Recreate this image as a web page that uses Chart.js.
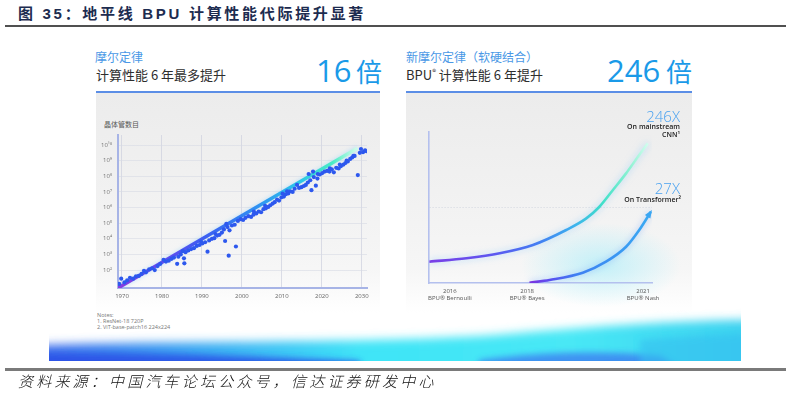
<!DOCTYPE html>
<html><head><meta charset="utf-8">
<script src="https://cdn.jsdelivr.net/npm/chart.js@4.4.1/dist/chart.umd.min.js"></script>
<style>
html,body{margin:0;padding:0;background:#fff;width:791px;height:398px;overflow:hidden;}
body{position:relative;font-family:"Noto Sans CJK SC","Open Sans",sans-serif;}
.abs{position:absolute;white-space:nowrap;}
#title{left:18px;top:4px;font-size:15px;font-weight:700;color:#1d2c50;letter-spacing:2.7px;line-height:19px;font-family:"Liberation Sans","Noto Sans CJK SC",sans-serif;}
#rule1{left:5px;top:25px;width:781px;height:2px;background:#505050;}
#rule2{left:5px;top:368px;width:781px;height:3px;background:#7a7a7a;}
#source{left:18px;top:372px;font-size:15px;line-height:18px;font-style:italic;letter-spacing:3.2px;color:#111;font-weight:300;}
.sub1{font-size:12px;line-height:14px;color:#4a98e6;}
.sub2{font-size:13px;line-height:16px;color:#2e2e2e;font-weight:400;}
.big{font-family:"Open Sans",sans-serif;font-weight:400;font-size:31px;line-height:31px;color:#1a9ae8;}
.bigc{font-family:"Noto Sans CJK SC",sans-serif;font-weight:400;font-size:26px;line-height:26px;color:#1a9ae8;}
.uline{height:2px;background:#5b8ee6;top:91px;}
.panel{top:93px;height:220px;background:linear-gradient(180deg,#ececec 0%,#f1f1f1 45%,#f6f6f6 80%,#ffffff 100%);}
.note{font-family:"Open Sans",sans-serif;font-size:5.5px;line-height:6px;color:#777;}
.ann{font-family:"Open Sans",sans-serif;text-align:right;}
canvas{position:absolute;}
</style></head>
<body>
<div id="title" class="abs">图 35：地平线 BPU 计算性能代际提升显著</div>
<div id="rule1" class="abs"></div>

<div class="abs sub1" style="left:95px;top:50px;">摩尔定律</div>
<div class="abs sub2" style="left:96px;top:67px;">计算性能 6 年最多提升</div>
<div class="abs big" style="left:316px;top:55px;">16</div>
<div class="abs bigc" style="left:356px;top:58px;">倍</div>

<div class="abs sub1" style="left:406px;top:50px;">新摩尔定律（软硬结合）</div>
<div class="abs sub2" style="left:406px;top:67px;">BPU<sup style="font-size:8px;line-height:0;">®</sup> 计算性能 6 年提升</div>
<div class="abs big" style="left:607px;top:55px;">246</div>
<div class="abs bigc" style="left:666px;top:58px;">倍</div>

<div class="abs uline" style="left:96px;width:284px;"></div>
<div class="abs uline" style="left:406px;width:286px;"></div>

<div class="abs panel" style="left:96px;width:284px;"></div>
<div class="abs panel" style="left:406px;width:286px;background:radial-gradient(ellipse 80px 42px at 195px 172px,rgba(160,236,250,0.6),rgba(160,236,250,0) 100%),linear-gradient(180deg,#ececec 0%,#f1f1f1 45%,#f6f6f6 80%,#ffffff 100%);"></div>

<div class="abs" style="left:104px;top:120px;font-size:7px;line-height:9px;color:#555;">晶体管数目</div>

<canvas id="moore" width="284" height="210" style="left:96px;top:94px;width:284px;height:210px;"></canvas>
<canvas id="bpu" width="286" height="216" style="left:406px;top:94px;width:286px;height:216px;"></canvas>

<div class="abs ann" style="right:111px;top:108px;font-size:15px;line-height:17px;color:#4aa2f0;font-weight:300;">246X</div>
<div class="abs ann" style="right:111px;top:123px;font-size:7px;line-height:8px;color:#222;font-weight:600;">On mainstream<br>CNN¹</div>
<div class="abs ann" style="right:111px;top:180px;font-size:15px;line-height:17px;color:#4aa2f0;font-weight:300;">27X</div>
<div class="abs ann" style="right:110px;top:196px;font-size:7px;line-height:8px;color:#222;font-weight:600;">On Transformer²</div>

<div class="abs note" style="left:97px;top:312px;">Notes:<br>1. ResNet-18 720P<br>2. ViT-base-patch16 224x224</div>

<svg class="abs" style="left:0;top:300px;" width="791" height="70">
  <defs>
    <linearGradient id="bandH" x1="49" x2="741" y1="0" y2="0" gradientUnits="userSpaceOnUse">
      <stop offset="0" stop-color="#3a6cec"/>
      <stop offset="0.2" stop-color="#3aa4f2"/>
      <stop offset="0.45" stop-color="#3fe4f7"/>
      <stop offset="0.75" stop-color="#48e8f5"/>
      <stop offset="1" stop-color="#3cd2f0"/>
    </linearGradient>
    <filter id="blur1" x="-10%" y="-60%" width="120%" height="220%"><feGaussianBlur stdDeviation="5"/></filter>
    <filter id="blur2" x="-10%" y="-60%" width="120%" height="220%"><feGaussianBlur stdDeviation="3"/></filter>
    <clipPath id="bandClip"><rect x="49" y="0" width="692" height="61"/></clipPath>
  </defs>
  <g clip-path="url(#bandClip)">
    <path d="M20,80 L20,46 C160,40 330,44 480,36 C570,29 640,21 780,19 L780,80 Z" fill="url(#bandH)" filter="url(#blur1)"/>
    <path d="M20,80 L20,55 C140,51 260,57 360,61 L360,80 Z" fill="#2a4fe6" opacity="0.85" filter="url(#blur2)"/>
    <path d="M470,80 L480,60 C540,52 600,50 660,56 L700,80 Z" fill="#3a6ef0" opacity="0.7" filter="url(#blur2)"/>
    <path d="M640,80 L640,40 C690,36 730,34 780,34 L780,80 Z" fill="#36bff0" opacity="0.6" filter="url(#blur2)"/>
  </g>
</svg>

<div id="rule2" class="abs"></div>
<div id="source" class="abs">资料来源：中国汽车论坛公众号，信达证券研发中心</div>

<script>
// ---------- Left: Moore's law (transistor count, log scale) ----------
const mooreYears = [
  1969.3,1969.8,1970.6,1971.3,1972.0,1972.8,1973.5,1974.2,1974.9,1975.5,
  1976.0,1976.8,1977.5,1978.2,1978.9,1979.6,1980.4,1981.0,1981.7,1982.4,
  1983.0,1983.8,1984.1,1984.7,1985.2,1985.5,1985.6,1985.9,1986.6,1987.3,
  1988.0,1988.7,1989.4,1989.8,1990.1,1990.8,1991.4,1991.8,1992.5,1993.1,
  1993.4,1993.8,1994.4,1995.0,1995.5,1995.8,1996.1,1996.4,1996.7,1996.9,
  1997.5,1998.2,1998.5,1999.0,1999.7,2000.3,2000.9,2001.6,2002.3,2002.9,
  2003.0,2003.6,2004.2,2004.8,2005.4,2005.8,2006.0,2006.6,2007.1,2007.7,
  2008.2,2008.8,2009.3,2009.9,2010.2,2010.5,2011.0,2011.3,2011.6,2012.1,
  2012.7,2013.2,2013.8,2014.3,2014.9,2015.5,2016.0,2016.5,2016.7,2017.1,
  2017.4,2017.8,2018.0,2018.5,2018.9,2019.0,2019.5,2020.1,2020.7,2021.3,
  2021.9,2022.0,2022.5,2023.0,2023.6,2024.2,2024.5,2024.8,2025.4,2025.9,
  2026.2,2026.5,2027.1,2027.6,2027.9,2028.2,2029.0,2029.5,2029.8,2030.3,
  2030.8,2031.2
];
const mooreTransistors = [
  13,28,16,22,32,28,40,42,56,89,
  71,110,130,100,180,250,450,350,400,520,
  630,250,710,1000,1600,560,270,1400,1800,2200,
  2500,3500,4000,6300,5000,6000,1500,7900,1.0e4,1.1e4,
  2.0e4,1.6e4,1.8e4,2.5e4,4.0e4,7200,8.9e4,5.6e4,830,3.5e4,
  7.1e4,7.9e4,3200,1.4e5,1.8e5,1.6e5,2.2e5,2.8e5,2.5e5,3.5e5,
  5.6e5,4.2e5,5.6e5,5.0e5,7.9e5,1.3e6,8.9e5,1.1e6,1.4e6,1.8e6,
  2.2e6,3.2e6,2.8e6,4.5e6,7.9e6,5.0e6,7.1e6,1.1e7,7.9e6,1.1e7,
  1.0e7,1.6e7,2.8e7,1.8e7,2.0e7,2.4e7,2.8e7,4.0e7,1.4e8,5.6e7,
  1.3e7,2.0e8,8.9e7,2.5e7,7.1e7,1.4e8,1.3e8,1.6e8,2.0e8,2.2e8,
  2.0e8,3.2e8,2.8e8,1.8e8,3.5e8,3.2e8,5.6e8,4.5e8,5.6e8,7.1e8,
  1.0e9,8.9e8,1.3e9,1.6e9,2.0e9,2.0e9,1.2e8,3.2e9,5.6e9,3.5e9,
  4.5e9,4.0e9
];
const trendYears = [1969.0, 2028.9];
const trendTransistors = [7.1, 6.3e9];
const mooreXTicks = [1970,1980,1990,2000,2010,2020,2030];
const mooreYTickValues = [1e2,1e3,1e4,1e5,1e6,1e7,1e8,1e9,1e10];
const mooreYTickLabels = ['10²','10³','10⁴','10⁵','10⁶','10⁷','10⁸','10⁹','10¹⁰'];

// ---------- Right: BPU generations (relative compute) ----------
const bpuCnnYears = [2015.47,2016.43,2017.29,2018.15,2019.01,2019.53,2019.87,2020.22,2020.56,2020.90,2021.12];
const bpuCnnPerf  = [14.1,16.4,19.7,25.2,35.1,42.8,50.5,61.6,72.6,84.8,92.5];
const bpuTransYears = [2018.06,2018.58,2019.44,2020.04,2020.56,2020.90,2021.20];
const bpuTransPerf  = [0.2,2.0,6.8,14.1,24.0,35.1,47.2];
const bpuXTicks = [2016,2018,2021];
const bpuXLabels = [['2016','BPU® Bernoulli'],['2018','BPU® Bayes'],['2021','BPU® Nash']];
const bpuGuideValues = [50];

Chart.defaults.font.family = '"Open Sans", "Noto Sans", sans-serif';

function hGrad(chart, stops, x0, x1){
  const area = chart.chartArea;
  if(!area) return stops[0][1];
  const a = x0 === undefined ? area.left : x0;
  const b = x1 === undefined ? area.right : x1;
  const g = chart.ctx.createLinearGradient(a,0,b,0);
  stops.forEach(s => g.addColorStop(s[0], s[1]));
  return g;
}

const glowPlugin = {
  id:'glow',
  beforeDatasetDraw(chart, args){
    const ds = chart.data.datasets[args.index];
    if(!ds.glowColor) return;
    chart.ctx.save();
    chart.ctx.shadowColor = ds.glowColor;
    chart.ctx.shadowBlur = ds.glowBlur || 6;
  },
  afterDatasetDraw(chart, args){
    const ds = chart.data.datasets[args.index];
    if(!ds.glowColor) return;
    chart.ctx.restore();
  }
};

// Left chart
new Chart(document.getElementById('moore'), {
  type:'scatter',
  data:{
    datasets:[
      {
        type:'line',
        data: trendYears.map((x,i)=>({x, y: trendTransistors[i]})),
        borderWidth:3.5,
        pointRadius:0,
        order:2,
        glowColor:'rgba(120,200,255,0.5)', glowBlur:4,
        borderColor: c => hGrad(c.chart, [[0,'#8a3be0'],[0.15,'#6a48ee'],[0.35,'#3b5ff2'],[0.55,'#2f8ff2'],[0.72,'#2cc4ea'],[0.86,'#48ecc4'],[0.95,'#c6fbe6'],[1,'#e8fff6']])
      },
      {
        data: mooreYears.map((x,i)=>({x, y: mooreTransistors[i]})),
        backgroundColor:'#2d58ee',
        borderWidth:0,
        pointRadius:2.1,
        order:1
      }
    ]
  },
  options:{
    responsive:false, animation:false,
    layout:{padding:{top:41,right:13,left:0,bottom:0}},
    plugins:{legend:{display:false},tooltip:{enabled:false}},
    scales:{
      x:{
        type:'linear', min:1969, max:2031.3,
        afterBuildTicks: s => { s.ticks = mooreXTicks.map(v=>({value:v})); },
        afterFit: s => { s.height = 16; },
        ticks:{font:{size:6},color:'#666',padding:5,maxRotation:0,autoSkip:false,callback:v=>String(v)},
        grid:{color:'rgba(205,208,222,0.7)',lineWidth:1,drawTicks:false},
        border:{color:'#a7b4e6',width:2}
      },
      y:{
        type:'logarithmic', min:7.08, max:4.4e10,
        afterBuildTicks: s => { s.ticks = mooreYTickValues.map(v=>({value:v})); },
        afterFit: s => { s.width = 22; },
        ticks:{font:{size:6},color:'#777',padding:6,autoSkip:false,
          callback:(v)=>{ const i = mooreYTickValues.indexOf(v); return i>=0 ? mooreYTickLabels[i] : ''; }},
        grid:{color:'rgba(215,218,228,0.6)',lineWidth:1,drawTicks:false},
        border:{color:'#a7b4e6',width:2}
      }
    }
  },
  plugins:[glowPlugin]
});

// Right chart
const arrowPlugin = {
  id:'arrowHead',
  afterDatasetsDraw(chart){
    const meta = chart.getDatasetMeta(1);
    const pts = meta.data;
    const p1 = pts[pts.length-1];
    const p0 = pts[pts.length-2];
    const bx = (p1.cp1x !== undefined) ? p1.cp1x : p0.x;
    const by = (p1.cp1y !== undefined) ? p1.cp1y : p0.y;
    const ang = Math.atan2(p1.y-by, p1.x-bx);
    const ctx = chart.ctx, L = 6, W = 3.2;
    ctx.save();
    ctx.translate(p1.x, p1.y);
    ctx.rotate(ang);
    ctx.beginPath();
    ctx.moveTo(2,0);
    ctx.lineTo(-L,-W);
    ctx.lineTo(-L,W);
    ctx.closePath();
    ctx.fillStyle='#3aa6f2';
    ctx.fill();
    ctx.restore();
  }
};

new Chart(document.getElementById('bpu'), {
  type:'line',
  data:{
    datasets:[
      {
        data: bpuCnnYears.map((x,i)=>({x, y: bpuCnnPerf[i]})),
        borderWidth:2.6, pointRadius:0, cubicInterpolationMode:'monotone',
        glowColor:'rgba(110,190,255,0.55)', glowBlur:7,
        borderColor: c => hGrad(c.chart, [[0,'#7b3fe6'],[0.3,'#5b58f0'],[0.5,'#4280f2'],[0.65,'#3cb2ee'],[0.78,'#40e0c8'],[0.9,'#8ef2d2'],[1,'#e2fff4']])
      },
      {
        data: bpuTransYears.map((x,i)=>({x, y: bpuTransPerf[i]})),
        borderWidth:2.6, pointRadius:0, cubicInterpolationMode:'monotone',
        glowColor:'rgba(90,150,255,0.5)', glowBlur:6,
        borderColor: c => hGrad(c.chart, [[0,'#7a36e0'],[0.46,'#7a36e0'],[0.54,'#5a4ef0'],[0.66,'#3f7ff2'],[0.85,'#3a98f2'],[1,'#3aaaf2']])
      }
    ]
  },
  options:{
    responsive:false, animation:false,
    layout:{padding:{top:38,right:40,left:0,bottom:0}},
    plugins:{legend:{display:false},tooltip:{enabled:false}},
    scales:{
      x:{
        type:'linear', min:2015.46, max:2021.23,
        afterBuildTicks: s => { s.ticks = bpuXTicks.map(v=>({value:v})); },
        afterFit: s => { s.height = 27; },
        ticks:{font:{size:6,lineHeight:1.15},color:'#555',padding:5,maxRotation:0,autoSkip:false,
          callback:(v)=>{ const i = bpuXTicks.indexOf(v); return i>=0 ? bpuXLabels[i] : ''; }},
        grid:{color:'transparent',drawTicks:false},
        border:{color:'#b4c0ee',width:1.6}
      },
      y:{
        type:'linear', min:0, max:100,
        afterBuildTicks: s => { s.ticks = bpuGuideValues.map(v=>({value:v})); },
        afterFit: s => { s.width = 23; },
        ticks:{display:false},
        grid:{color:'rgba(170,180,200,0.55)',lineWidth:0.8,drawTicks:false},
        border:{color:'#b4c0ee',width:1.6,dash:[1,2]}
      }
    }
  },
  plugins:[glowPlugin, arrowPlugin]
});
</script>
</body></html>
